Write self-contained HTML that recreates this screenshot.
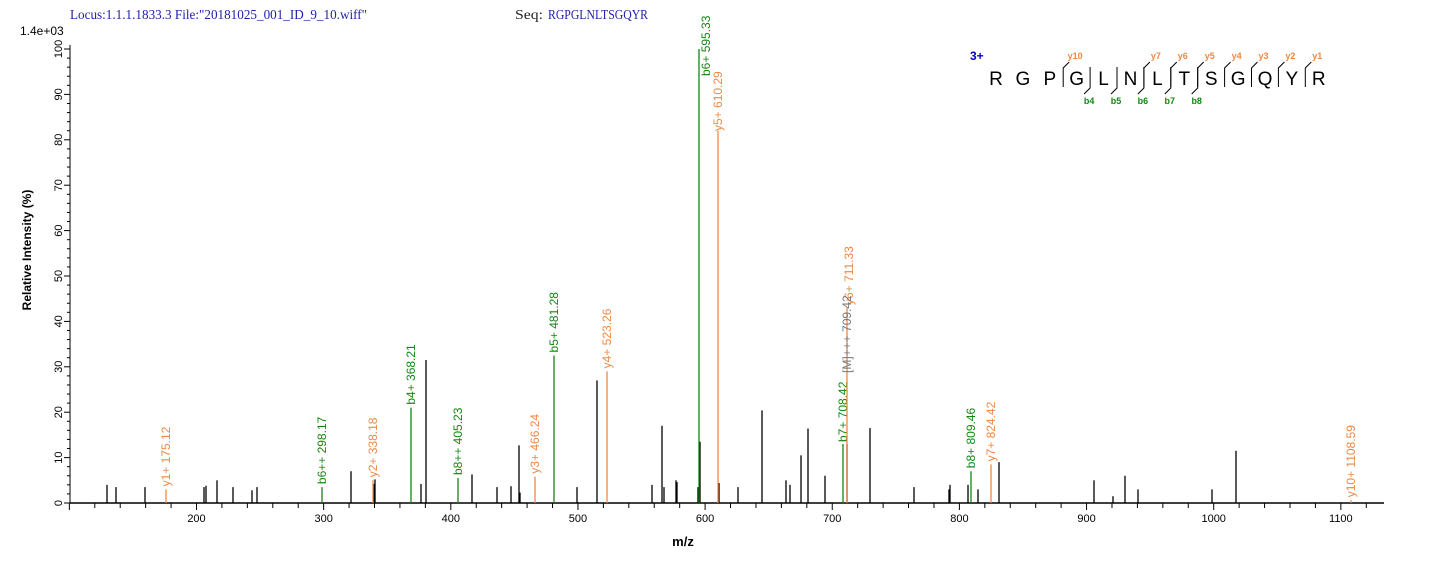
<!DOCTYPE html>
<html><head><meta charset="utf-8"><style>
html,body{margin:0;padding:0;background:#fff;}
svg{display:block;font-family:"Liberation Sans",Arial,sans-serif;}
</style></head><body>
<svg id="s" width="1436" height="562" xmlns="http://www.w3.org/2000/svg">
<text x="70" y="19" font-family="Liberation Serif,serif" font-size="14" fill="#2222aa" textLength="297" lengthAdjust="spacingAndGlyphs">Locus:1.1.1.1833.3 File:"20181025_001_ID_9_10.wiff"</text>
<text x="515" y="19" font-family="Liberation Serif,serif" font-size="14" fill="#222" textLength="28" lengthAdjust="spacingAndGlyphs">Seq:</text>
<text x="548" y="19" font-family="Liberation Serif,serif" font-size="14" fill="#2222aa" textLength="100" lengthAdjust="spacingAndGlyphs">RGPGLNLTSGQYR</text>
<text x="20" y="35" font-size="12" fill="#000">1.4e+03</text>
<text transform="translate(31,250) rotate(-90)" text-anchor="middle" font-size="12" font-weight="bold">Relative   Intensity (%)</text>
<text x="683" y="546" text-anchor="middle" font-size="13" font-weight="bold">m/z</text>
<g id="g"></g>
</svg>
<script>
var g=document.getElementById('g'),h='';
function X(m){return 196.5+(m-200)*1.2715;}
function Y(p){return 503-4.54*p;}
h+='<line x1="70" y1="503" x2="1384" y2="503" stroke="#000" stroke-width="1.5"/>';
h+='<line x1="70" y1="45" x2="70" y2="503" stroke="#000" stroke-width="1"/>';
for(var p=0;p<=100;p+=2){var y=Y(p);var L=(p%10==0)?6:3;h+='<line x1="'+(70-L)+'" y1="'+y+'" x2="70" y2="'+y+'" stroke="#000"/>';
 if(p%10==0)h+='<text transform="translate(62,'+y+') rotate(-90)" text-anchor="middle" font-size="11">'+p+'</text>';}
for(var m=100;m<=1130;m+=20){var x=X(m);var L=(m%100==0)?7:5;h+='<line x1="'+x+'" y1="503" x2="'+x+'" y2="'+(503+L)+'" stroke="#000"/>';
 if(m%100==0&&m>=200)h+='<text x="'+x+'" y="522" text-anchor="middle" font-size="11">'+m+'</text>';}
var b=[[107,4],[116,3.5],[145,3.5],[204,3.5],[206,3.8],[217,5],[233,3.5],[252,2.8],[257,3.5],[351,7],[374,4.2],[375,5.2],[421,4.2],[426,31.5],[472,6.3],[497,3.5],[511,3.7],[519,12.7],[520,2.3],[577,3.5],[597,27],[652,4],[662,17],[664,3.5],[676,5],[677,4.6],[698,3.5],[700,13.5],[719,4.4],[738,3.5],[762,20.4],[786,5],[790,4],[801,10.5],[808,16.4],[825,6],[847,13],[870,16.5],[914,3.5],[949,3],[950,4],[968,4],[978,3],[999,9],[1094,5],[1113,1.5],[1125,6],[1138,3],[1212,3],[1236,11.5]];
b.forEach(function(a){h+='<line x1="'+a[0]+'" y1="503" x2="'+a[0]+'" y2="'+Y(a[1])+'" stroke="#000" stroke-width="1.3"/>';});
var G='#118811',O='#ee8844',K='#777';
var an=[[166,3,O,'y1+ 175.12'],[322,3.5,G,'b6++ 298.17'],[373,5,O,'y2+ 338.18'],[411,21,G,'b4+ 368.21'],[458,5.5,G,'b8++ 405.23'],[535,5.8,O,'y3+ 466.24'],[554,32.5,G,'b5+ 481.28'],[607,29,O,'y4+ 523.26'],[699,100,G,'b6+ 595.33'],[718,82,O,'y5+ 610.29'],[843,13,G,'b7+ 708.42'],[847,43,O,'y6+ 711.33'],[971,7,G,'b8+ 809.46'],[991,8.5,O,'y7+ 824.42'],[1351,0.6,O,'y10+ 1108.59']];
an.forEach(function(a){var yt=Y(a[1]);h+='<line x1="'+a[0]+'" y1="503" x2="'+a[0]+'" y2="'+yt+'" stroke="'+a[2]+'" stroke-width="1.3"/>';
 var tx=a[0]+4,ty=yt-3;
 if(a[3]=='b6+ 595.33'){tx=710;ty=76;}
 if(a[3]=='y5+ 610.29'){tx=722;ty=131;}
 if(a[3]=='y6+ 711.33'){tx=853;ty=305;}
 if(a[3]=='b7+ 708.42'){tx=847;ty=442;}
 h+='<text transform="translate('+tx+','+ty+') rotate(-90)" font-size="12" fill="'+a[2]+'">'+a[3]+'</text>';});
h+='<text transform="translate(851,373) rotate(-90)" font-size="12" fill="'+K+'">[M]+++ 709.42</text>';
h+='<text x="970" y="60" font-size="12" font-weight="bold" fill="#0000cc">3+</text>';
var seq='RGPGLNLTSGQYR'.split('');
seq.forEach(function(c,i){h+='<text x="'+(996+i*26.9)+'" y="85" text-anchor="middle" font-size="19">'+c+'</text>';});
var yl=[[3,'y10'],[6,'y7'],[7,'y6'],[8,'y5'],[9,'y4'],[10,'y3'],[11,'y2'],[12,'y1']];
yl.forEach(function(a){var x=996+a[0]*26.9-13.5;h+='<path d="M'+x+' 87 L'+x+' 68 L'+(x+6)+' 62" fill="none" stroke="#000"/>';
 h+='<text x="'+(x+12)+'" y="59" text-anchor="middle" font-size="9" font-weight="bold" fill="'+O+'">'+a[1]+'</text>';});
for(var k=0;k<5;k++){var x=996+(k+4)*26.9-13.5;h+='<path d="M'+x+' 67 L'+x+' 88 L'+(x-6)+' 94" fill="none" stroke="#000"/>';
 h+='<text x="'+(x-1)+'" y="104" text-anchor="middle" font-size="9" font-weight="bold" fill="'+G+'">b'+(k+4)+'</text>';}
g.innerHTML=h;
</script>
</body></html>
